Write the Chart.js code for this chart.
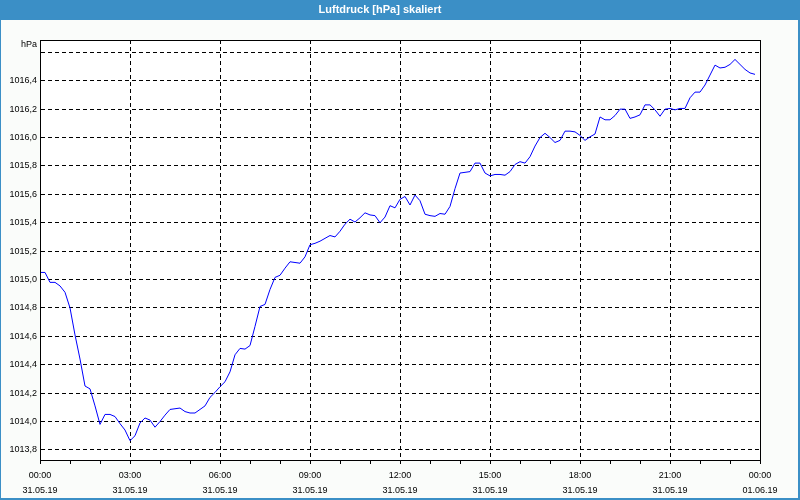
<!DOCTYPE html>
<html><head><meta charset="utf-8">
<script src="https://cdn.jsdelivr.net/npm/chart.js@4/dist/chart.umd.min.js"></script>
<style>html,body{margin:0;padding:0;background:#fafcfa;overflow:hidden}canvas{display:block}</style>
</head><body>
<canvas id="c" width="800" height="500"></canvas>
<script>
const chartTitle = 'Luftdruck [hPa] skaliert';
const unitLabel = 'hPa';

// minutes since 31.05.19 00:00
const minutes = [
  0,10,20,30,40,50,60,70,80,90,100,110,120,130,140,150,160,170,180,190,
  200,210,220,230,240,250,260,270,280,290,300,310,320,330,340,350,360,370,380,390,
  400,410,420,430,440,450,460,470,480,490,500,510,520,530,540,550,560,570,580,590,
  600,610,620,630,640,650,660,670,680,690,700,710,720,730,740,750,760,770,780,790,
  800,810,820,830,840,850,860,870,880,890,900,910,920,930,940,950,960,970,980,990,
  1000,1010,1020,1030,1040,1050,1060,1070,1080,1090,1100,1110,1120,1130,1140,1150,1160,1170,1180,1190,
  1200,1210,1220,1230,1240,1250,1260,1270,1280,1290,1300,1310,1320,1330,1340,1350,1360,1370,1380,1390,
  1400,1410,1420,1430
];

const pressure = [
  1015.05,1015.05,1014.98,1014.98,1014.955,1014.91,1014.80,1014.61,1014.44,1014.25,
  1014.23,1014.11,1013.98,1014.05,1014.05,1014.035,1013.985,1013.94,1013.865,1013.90,
  1013.99,1014.025,1014.01,1013.96,1014.00,1014.045,1014.085,1014.09,1014.095,1014.07,
  1014.06,1014.06,1014.085,1014.11,1014.17,1014.205,1014.245,1014.28,1014.35,1014.47,
  1014.515,1014.51,1014.535,1014.67,1014.81,1014.825,1014.93,1015.015,1015.03,1015.08,
  1015.125,1015.12,1015.115,1015.16,1015.245,1015.255,1015.27,1015.29,1015.31,1015.30,
  1015.34,1015.39,1015.425,1015.405,1015.435,1015.47,1015.455,1015.45,1015.40,1015.44,
  1015.52,1015.505,1015.565,1015.585,1015.525,1015.595,1015.555,1015.46,1015.45,1015.445,
  1015.465,1015.46,1015.515,1015.64,1015.75,1015.755,1015.76,1015.82,1015.82,1015.75,
  1015.73,1015.74,1015.74,1015.735,1015.76,1015.81,1015.83,1015.82,1015.865,1015.94,
  1016.00,1016.03,1016.00,1015.965,1015.98,1016.045,1016.045,1016.04,1016.015,1015.98,
  1016.005,1016.025,1016.145,1016.125,1016.125,1016.155,1016.20,1016.20,1016.135,1016.145,
  1016.16,1016.23,1016.23,1016.195,1016.15,1016.20,1016.205,1016.195,1016.205,1016.205,
  1016.28,1016.32,1016.32,1016.37,1016.44,1016.51,1016.49,1016.495,1016.515,1016.55,
  1016.515,1016.48,1016.455,1016.445
];

const yTicks = [1013.8,1014.0,1014.2,1014.4,1014.6,1014.8,1015.0,1015.2,1015.4,1015.6,1015.8,1016.0,1016.2,1016.4,1016.6];
const yUnlabeled = [1016.6];
const yMin = 1013.729, yMax = 1016.687;

const xTickMinutes = [0,60,120,180,240,300,360,420,480,540,600,660,720,780,840,900,960,1020,1080,1140,1200,1260,1320,1380,1440];
const xLabelMinutes = [0,180,360,540,720,900,1080,1260,1440];
const xLabelTimes = ['00:00','03:00','06:00','09:00','12:00','15:00','18:00','21:00','00:00'];
const xLabelDates = ['31.05.19','31.05.19','31.05.19','31.05.19','31.05.19','31.05.19','31.05.19','31.05.19','01.06.19'];

const points = minutes.map((m, i) => ({x: m, y: pressure[i]}));
const tickFont = {family: '"Liberation Sans", Arial, sans-serif', size: 9};

const framePlugin = {
  id: 'frame',
  beforeDraw(chart) {
    const ctx = chart.ctx, a = chart.chartArea;
    ctx.save();
    ctx.fillStyle = '#fafcfa';
    ctx.fillRect(0, 0, chart.width, chart.height);
    ctx.fillStyle = '#3b8fc6';
    ctx.fillRect(0, 0, chart.width, 20);
    ctx.fillRect(0, 0, 1, chart.height);
    ctx.fillRect(chart.width - 2, 0, 2, chart.height);
    ctx.fillRect(0, chart.height - 2, chart.width, 2);
    ctx.fillStyle = '#ffffff';
    ctx.fillRect(a.left, a.top, a.right - a.left, a.bottom - a.top);
    ctx.restore();
  },
  afterDraw(chart) {
    const ctx = chart.ctx, a = chart.chartArea;
    ctx.save();
    ctx.strokeStyle = '#000';
    ctx.lineWidth = 1;
    ctx.setLineDash([]);
    ctx.beginPath();
    ctx.moveTo(Math.round(a.left) + 0.5, Math.round(a.top) + 0.5);
    ctx.lineTo(Math.round(a.right) + 0.5, Math.round(a.top) + 0.5);
    ctx.lineTo(Math.round(a.right) + 0.5, Math.round(a.bottom) + 0.5);
    ctx.moveTo(Math.round(a.left) + 0.5, Math.round(a.top) + 0.5);
    ctx.lineTo(Math.round(a.left) + 0.5, Math.round(a.bottom) + 0.5);
    ctx.lineTo(Math.round(a.right) + 0.5, Math.round(a.bottom) + 0.5);
    ctx.stroke();
    ctx.fillStyle = '#000';
    ctx.font = '9px "Liberation Sans", Arial, sans-serif';
    ctx.textAlign = 'right';
    ctx.textBaseline = 'middle';
    ctx.fillText(unitLabel, a.left - 3, a.top + 5);
    ctx.restore();
  }
};

new Chart(document.getElementById('c'), {
  type: 'line',
  data: {
    datasets: [{
      data: points,
      borderColor: '#0000ff',
      borderWidth: 1,
      pointRadius: 0,
      tension: 0,
      fill: false
    }]
  },
  options: {
    responsive: false,
    animation: false,
    events: [],
    layout: {padding: {left: 0, right: 40, top: 0, bottom: 0}},
    plugins: {
      legend: {display: false},
      tooltip: {enabled: false},
      title: {
        display: true,
        text: chartTitle,
        color: '#ffffff',
        font: {family: '"Liberation Sans", Arial, sans-serif', size: 11, weight: 'bold'},
        padding: {top: 3.5, bottom: 23.3}
      }
    },
    scales: {
      x: {
        type: 'linear',
        min: 0, max: 1440,
        afterBuildTicks: s => { s.ticks = xTickMinutes.map(v => ({value: v})); },
        afterFit: s => { s.height = 40; },
        ticks: {
          autoSkip: false, maxRotation: 0, color: '#000',
          font: {family: '"Liberation Sans", Arial, sans-serif', size: 9, lineHeight: 1.7},
          padding: 4,
          callback: v => {
            const i = xLabelMinutes.indexOf(v);
            return i >= 0 ? [xLabelTimes[i], xLabelDates[i]] : '';
          }
        },
        grid: {
          color: c => (c.tick && xLabelMinutes.includes(c.tick.value)) ? '#000' : 'rgba(0,0,0,0)',
          tickColor: '#000',
          tickLength: 4,
          lineWidth: 1
        },
        border: {display: true, color: '#000', width: 1, dash: [4, 3]}
      },
      y: {
        type: 'linear',
        min: yMin, max: yMax,
        afterBuildTicks: s => { s.ticks = yTicks.map(v => ({value: v})); },
        afterFit: s => { s.width = 40; },
        ticks: {
          autoSkip: false, color: '#000', font: tickFont, padding: 3,
          callback: v => yUnlabeled.some(u => Math.abs(u - v) < 1e-6) ? '' : v.toFixed(1).replace('.', ',')
        },
        grid: {
          color: '#000',
          drawTicks: false,
          lineWidth: 1
        },
        border: {display: true, color: '#000', width: 1, dash: [4, 3]}
      }
    }
  },
  plugins: [framePlugin]
});
</script>
</body></html>
